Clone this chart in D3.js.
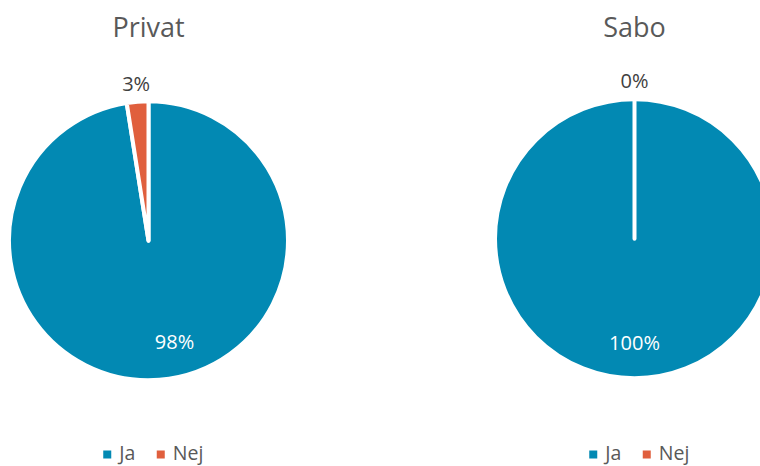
<!DOCTYPE html>
<html>
<head>
<meta charset="utf-8">
<script src="https://cdn.jsdelivr.net/npm/d3@7"></script>
<style>
  html, body { margin: 0; padding: 0; background: #fff; }
  svg { display: block; font-family: "Open Sans", "Noto Sans", sans-serif; }
</style>
</head>
<body>
<svg id="chart" width="760" height="466"></svg>
<script>
// Answer categories shared by both pies
const categories = ["Ja", "Nej"];
// Pie titles
const chartTitles = ["Privat", "Sabo"];
// Share of answers per category, in percent
const privatValues = [97.5, 2.5];
const saboValues = [100, 0];

const colors = ["#0289b3", "#e05f3d"];

const svg = d3.select("#chart");
const color = d3.scaleOrdinal().domain(categories).range(colors);

// Layout of each pie panel
const panels = [
  { title: chartTitles[0], values: privatValues, cx: 148.5, cy: 240.7, legendX: 155, insideTurn: -10 },
  { title: chartTitles[1], values: saboValues, cx: 634.5, cy: 238.7, legendX: 641, insideTurn: 0 }
];

const radius = 139.5;
const strokeW = 4;

const pie = d3.pie().sort(null).value(d => d.value);
const arc = d3.arc().innerRadius(0).outerRadius(radius);

panels.forEach(p => {
  const data = categories.map((c, i) => ({ category: c, value: p.values[i] }));
  const arcs = pie(data);
  const g = svg.append("g").attr("transform", `translate(${p.cx},${p.cy})`);

  g.selectAll("path.slice")
    .data(arcs)
    .join("path")
    .attr("class", "slice")
    .attr("d", arc)
    .attr("fill", d => color(d.data.category))
    .attr("stroke", "#fff")
    .attr("stroke-width", strokeW)
    .attr("stroke-linejoin", "round");

  // Data labels: large slices inside in white, small slices outside in grey
  arcs.forEach(a => {
    const share = (a.endAngle - a.startAngle) / (2 * Math.PI);
    const inside = share > 0.5;
    let mid = (a.startAngle + a.endAngle) / 2;
    let r;
    if (inside) {
      mid += p.insideTurn * Math.PI / 180;
      r = radius * 0.745;
    } else {
      r = radius + 18;
    }
    const x = Math.sin(mid) * r;
    const y = -Math.cos(mid) * r;
    g.append("text")
      .attr("x", x)
      .attr("y", y)
      .attr("dy", "0.36em")
      .attr("text-anchor", "middle")
      .attr("font-size", 20)
      .attr("fill", inside ? "#ffffff" : "#404040")
      .text(Math.round(a.data.value) + "%");
  });

  // Title
  svg.append("text")
    .attr("x", p.cx)
    .attr("y", 36.5)
    .attr("text-anchor", "middle")
    .attr("font-size", 27)
    .attr("fill", "#595959")
    .text(p.title);

  // Legend
  const lg = svg.append("g").attr("transform", `translate(${p.legendX},0)`);
  const itemW = [53.5, 50];
  const total = d3.sum(itemW);
  let xoff = -total / 2;
  categories.forEach((c, i) => {
    lg.append("rect")
      .attr("x", xoff)
      .attr("y", 450.5)
      .attr("width", 8)
      .attr("height", 8)
      .attr("fill", color(c));
    lg.append("text")
      .attr("x", xoff + 16)
      .attr("y", 460)
      .attr("font-size", 19.5)
      .attr("fill", "#595959")
      .text(c);
    xoff += itemW[i];
  });
});
</script>
</body>
</html>
